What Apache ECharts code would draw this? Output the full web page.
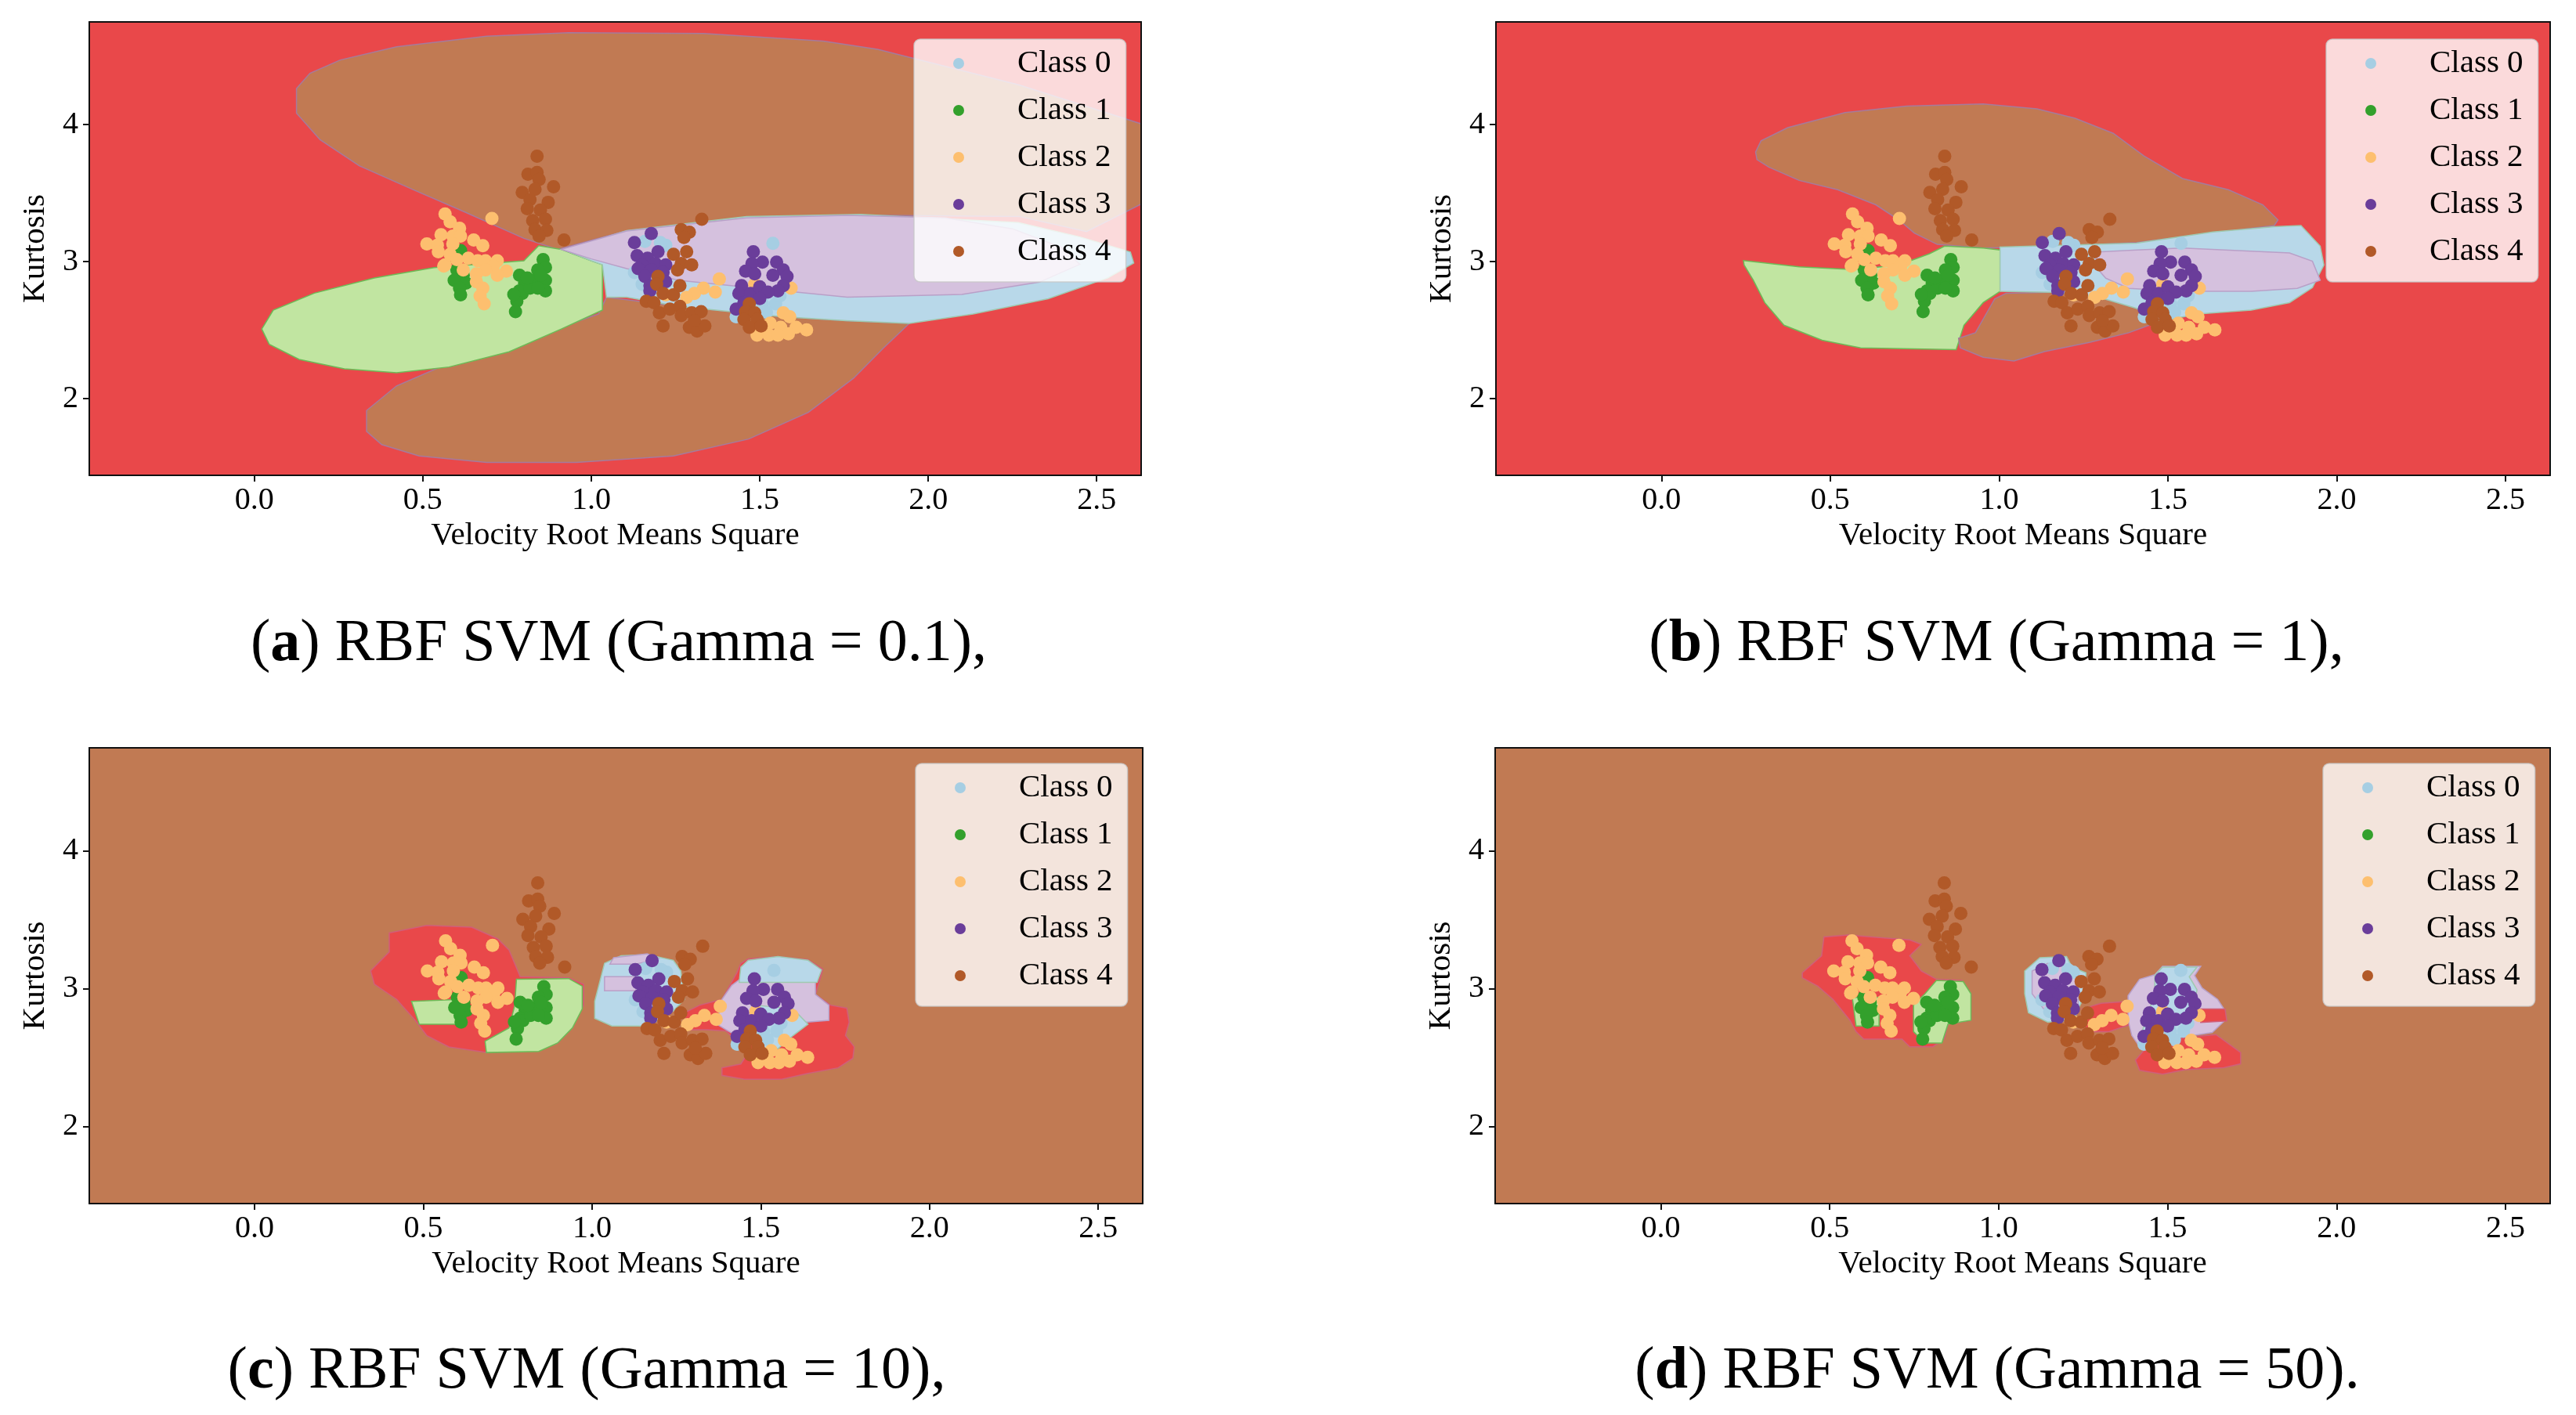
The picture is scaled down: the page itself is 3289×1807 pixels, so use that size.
<!DOCTYPE html>
<html><head><meta charset="utf-8">
<script src="https://cdn.jsdelivr.net/npm/echarts@6.0.0/dist/echarts.min.js"></script>
<style>html,body{margin:0;padding:0;background:#fff}#c{width:3289px;height:1807px}</style>
</head><body><div id="c"></div>
<script>
// ---------- data ----------
const classNames = ['Class 0', 'Class 1', 'Class 2', 'Class 3', 'Class 4'];
const xTicks = [0.0, 0.5, 1.0, 1.5, 2.0, 2.5];
const yTicks = [2, 3, 4];
const xRange = [-0.49, 2.632];
const yRange = [1.44, 4.75];
const captionLetters = ['a', 'b', 'c', 'd'];
const captionGammas = ['0.1', '1', '10', '50'];
const captionEnds = [',', ',', ',', '.'];
const backgroundClass = [2, 2, 4, 4];

const class0Pts = [[1.539,3.133],[1.159,3.148],[1.221,3.120],[1.128,2.92],[1.430,2.597],[1.547,2.692],[1.508,2.692],[1.205,3.139],[1.151,2.835],[1.52,2.63],[1.45,2.62],[1.56,2.75]];
const class1Pts = [[0.612,3.081],[0.601,2.939],[0.620,2.901],[0.593,2.863],[0.628,2.844],[0.609,2.806],[0.612,2.758],[0.857,3.015],[0.864,2.958],[0.841,2.939],[0.864,2.863],[0.833,2.863],[0.787,2.901],[0.802,2.844],[0.787,2.787],[0.795,2.768],[0.818,2.806],[0.864,2.787],[0.779,2.711],[0.775,2.635],[0.841,2.806],[0.85,2.9],[0.81,2.88],[0.77,2.76]];
const class2Pts = [[0.705,3.315],[0.566,3.348],[0.581,3.291],[0.609,3.243],[0.554,3.196],[0.589,3.187],[0.612,3.187],[0.512,3.129],[0.543,3.120],[0.589,3.129],[0.651,3.158],[0.678,3.116],[0.546,3.072],[0.581,3.053],[0.566,2.977],[0.601,3.015],[0.635,3.025],[0.663,3.006],[0.686,3.006],[0.721,3.006],[0.709,2.968],[0.748,2.930],[0.721,2.901],[0.686,2.939],[0.659,2.911],[0.659,2.854],[0.678,2.806],[0.670,2.749],[0.682,2.692],[0.562,2.968],[0.620,2.939],[1.380,2.873],[1.368,2.778],[1.333,2.806],[1.306,2.768],[1.283,2.739],[1.221,2.758],[1.593,2.806],[1.570,2.626],[1.589,2.597],[1.531,2.550],[1.562,2.521],[1.608,2.521],[1.639,2.502],[1.492,2.464],[1.527,2.464],[1.554,2.464],[1.585,2.474],[1.485,2.835]];
const class3Pts = [[1.178,3.205],[1.128,3.139],[1.136,3.044],[1.198,3.072],[1.167,3.025],[1.151,2.977],[1.190,2.986],[1.221,2.977],[1.139,2.949],[1.178,2.939],[1.159,2.892],[1.213,2.920],[1.221,2.854],[1.174,2.825],[1.174,2.787],[1.481,3.072],[1.508,2.996],[1.477,2.986],[1.458,2.930],[1.485,2.911],[1.550,2.996],[1.570,2.939],[1.539,2.901],[1.581,2.892],[1.570,2.825],[1.554,2.787],[1.446,2.825],[1.438,2.768],[1.473,2.768],[1.500,2.816],[1.524,2.778],[1.500,2.730],[1.430,2.654],[1.453,2.701]];
const class4Pts = [[0.839,3.769],[0.812,3.638],[0.839,3.651],[0.845,3.600],[0.888,3.547],[0.795,3.505],[0.833,3.528],[0.818,3.452],[0.872,3.433],[0.810,3.386],[0.849,3.376],[0.826,3.300],[0.864,3.309],[0.833,3.234],[0.868,3.228],[0.845,3.186],[0.919,3.158],[1.328,3.309],[1.267,3.234],[1.291,3.215],[1.275,3.177],[1.283,3.072],[1.244,3.053],[1.267,2.986],[1.298,2.977],[1.256,2.939],[1.198,2.892],[1.194,2.835],[1.213,2.768],[1.244,2.758],[1.263,2.825],[1.163,2.711],[1.186,2.701],[1.202,2.626],[1.233,2.654],[1.263,2.673],[1.267,2.606],[1.298,2.626],[1.326,2.635],[1.213,2.531],[1.291,2.521],[1.314,2.493],[1.337,2.531],[1.306,2.569],[1.469,2.692],[1.458,2.635],[1.485,2.626],[1.453,2.578],[1.492,2.578],[1.469,2.521],[1.504,2.531]];
const classPts = [class0Pts, class1Pts, class2Pts, class3Pts, class4Pts];

// decision-region outlines (data coordinates), panel (a) gamma = 0.1
const regA_brownUp = [[0.125,4.084],[0.125,4.264],[0.165,4.375],[0.255,4.472],[0.422,4.568],[0.689,4.646],[0.933,4.671],[1.333,4.665],[1.689,4.61],[1.85,4.55],[2.27,4.29],[2.64,4.0],[2.64,3.43],[2.47,3.22],[2.27,3.33],[1.8,3.34],[1.461,3.32],[1.105,3.225],[0.9,3.09],[0.8,3.17],[0.622,3.365],[0.467,3.53],[0.311,3.70],[0.195,3.89]];
const regA_brownLow = [[0.333,1.761],[0.333,1.913],[0.422,2.093],[0.578,2.259],[0.8,2.425],[1.022,2.618],[1.045,2.74],[1.26,2.673],[1.415,2.635],[1.57,2.597],[1.756,2.569],[1.944,2.549],[1.867,2.369],[1.778,2.148],[1.644,1.899],[1.467,1.705],[1.244,1.581],[0.956,1.534],[0.689,1.534],[0.489,1.581],[0.378,1.664]];
const regA_green = [[0.022,2.508],[0.056,2.646],[0.178,2.770],[0.356,2.881],[0.533,2.956],[0.8,3.006],[0.844,3.116],[0.911,3.089],[1.0,3.006],[1.033,2.978],[1.033,2.646],[0.911,2.508],[0.756,2.342],[0.578,2.231],[0.422,2.189],[0.267,2.217],[0.133,2.286],[0.044,2.397]];
const regA_blue = [[0.92,3.085],[1.105,3.226],[1.461,3.33],[1.8,3.345],[2.267,3.285],[2.45,3.18],[2.6,3.07],[2.61,2.99],[2.533,2.881],[2.356,2.729],[2.133,2.618],[1.944,2.549],[1.756,2.569],[1.57,2.597],[1.415,2.635],[1.26,2.673],[1.105,2.74],[1.045,2.74],[1.033,2.978],[1.0,3.006]];
const regA_purple = [[0.911,3.089],[1.105,3.224],[1.461,3.319],[1.76,3.338],[2.05,3.32],[2.25,3.24],[2.4,3.1],[2.45,2.98],[2.33,2.85],[2.1,2.76],[1.76,2.74],[1.415,2.825],[1.26,2.863],[1.105,2.949],[1.0,3.02]];

// panel (b) gamma = 1
const regB_brownUp = [[0.279,3.80],[0.295,3.882],[0.374,3.978],[0.544,4.088],[0.726,4.135],[0.953,4.151],[1.112,4.115],[1.225,4.047],[1.338,3.937],[1.429,3.772],[1.543,3.607],[1.679,3.525],[1.781,3.415],[1.826,3.305],[1.815,3.264],[1.633,3.209],[1.407,3.140],[1.180,3.113],[0.953,3.099],[0.817,3.126],[0.749,3.209],[0.703,3.305],[0.635,3.415],[0.522,3.525],[0.408,3.593],[0.318,3.690],[0.283,3.745]];
const regB_green = [[0.243,3.008],[0.408,2.962],[0.567,2.942],[0.703,2.975],[0.794,3.058],[0.839,3.113],[0.953,3.099],[1.003,3.085],[1.003,2.783],[0.953,2.701],[0.896,2.536],[0.873,2.357],[0.590,2.371],[0.476,2.426],[0.363,2.536],[0.306,2.701],[0.272,2.865],[0.245,2.975]];
const regB_brownLow = [[0.880,2.440],[0.930,2.481],[0.987,2.728],[1.021,2.769],[1.157,2.777],[1.293,2.742],[1.407,2.659],[1.475,2.563],[1.384,2.481],[1.270,2.412],[1.134,2.343],[1.044,2.275],[0.953,2.302],[0.885,2.371]];
const regB_blue = [[1.003,3.107],[1.407,3.135],[1.633,3.217],[1.815,3.255],[1.894,3.264],[1.951,3.113],[1.962,2.975],[1.928,2.810],[1.860,2.701],[1.747,2.646],[1.588,2.618],[1.475,2.563],[1.407,2.659],[1.293,2.742],[1.157,2.777],[1.003,2.783]];
const regB_purple = [[1.293,3.071],[1.407,3.085],[1.543,3.099],[1.860,3.063],[1.928,3.003],[1.951,2.865],[1.883,2.805],[1.747,2.783],[1.543,2.783],[1.384,2.805],[1.316,2.879],[1.282,2.975]];

// panel (c) gamma = 10
const regC_redLeft = [[0.344,3.130],[0.399,3.268],[0.399,3.406],[0.510,3.461],[0.643,3.447],[0.720,3.364],[0.754,3.281],[0.787,3.088],[0.931,3.080],[0.975,3.033],[0.975,2.881],[0.931,2.702],[0.898,2.606],[0.798,2.545],[0.687,2.537],[0.576,2.578],[0.510,2.661],[0.476,2.771],[0.421,2.923],[0.355,3.033]];
const regC_greenA = [[0.465,2.909],[0.609,2.923],[0.621,2.743],[0.488,2.743]];
const regC_greenB = [[0.776,3.069],[0.931,3.074],[0.971,3.019],[0.971,2.854],[0.942,2.716],[0.898,2.606],[0.842,2.545],[0.687,2.537],[0.683,2.619],[0.754,2.716],[0.771,2.881]];
const regC_blueMid = [[1.037,3.185],[1.086,3.240],[1.164,3.248],[1.241,3.207],[1.263,3.130],[1.274,2.923],[1.241,2.840],[1.186,2.757],[1.152,2.730],[1.059,2.730],[1.008,2.785],[1.008,2.909]];
const regC_purpleMidA = [[1.064,3.226],[1.164,3.254],[1.197,3.218],[1.130,3.179],[1.053,3.179]];
const regC_purpleMidB = [[1.037,3.088],[1.130,3.088],[1.130,2.986],[1.037,2.986]];
const regC_redRight = [[1.274,2.826],[1.319,2.881],[1.385,2.923],[1.407,3.019],[1.429,3.116],[1.441,3.185],[1.463,3.218],[1.551,3.234],[1.640,3.212],[1.684,3.143],[1.673,3.047],[1.662,2.959],[1.707,2.881],[1.755,2.859],[1.762,2.757],[1.751,2.661],[1.777,2.578],[1.773,2.495],[1.729,2.426],[1.640,2.385],[1.562,2.343],[1.452,2.343],[1.385,2.371],[1.385,2.426],[1.441,2.454],[1.463,2.537],[1.429,2.619],[1.396,2.694],[1.341,2.702],[1.281,2.702]];
const regC_purpleRight = [[1.385,2.923],[1.414,3.025],[1.441,3.074],[1.662,3.052],[1.662,2.959],[1.702,2.881],[1.702,2.771],[1.596,2.749],[1.551,2.674],[1.463,2.619],[1.407,2.688],[1.370,2.743]];
const regC_blueRightTop = [[1.441,3.157],[1.463,3.207],[1.551,3.234],[1.640,3.207],[1.680,3.138],[1.667,3.047],[1.436,3.047]];
const regC_blueRightLow = [[1.485,2.881],[1.596,2.854],[1.640,2.743],[1.596,2.661],[1.551,2.564],[1.485,2.564],[1.441,2.688]];

// panel (d) gamma = 50
const regD_redLeft = [[0.419,3.116],[0.476,3.240],[0.483,3.377],[0.555,3.391],[0.646,3.372],[0.737,3.355],[0.771,3.322],[0.737,3.240],[0.771,3.129],[0.816,3.069],[0.891,3.061],[0.918,2.964],[0.918,2.771],[0.850,2.744],[0.839,2.634],[0.805,2.579],[0.737,2.579],[0.714,2.634],[0.601,2.634],[0.578,2.689],[0.560,2.771],[0.510,2.923],[0.465,3.019],[0.419,3.080]];
const regD_greenA = [[0.567,2.937],[0.646,2.937],[0.646,2.730],[0.578,2.730]];
const regD_greenB = [[0.816,3.061],[0.895,3.052],[0.918,2.964],[0.918,2.771],[0.850,2.744],[0.832,2.606],[0.782,2.606],[0.748,2.689],[0.748,2.882],[0.782,2.964]];
const regD_blueMid = [[1.077,3.129],[1.122,3.226],[1.201,3.234],[1.217,3.157],[1.258,3.116],[1.258,2.964],[1.235,2.854],[1.224,2.771],[1.145,2.758],[1.088,2.826],[1.077,2.964]];
const regD_purpleMid = [[1.099,3.129],[1.145,3.185],[1.201,3.157],[1.235,3.074],[1.235,2.882],[1.190,2.826],[1.133,2.854],[1.099,2.964]];
const regD_redMid = [[1.247,2.854],[1.303,2.895],[1.383,2.909],[1.405,2.854],[1.394,2.744],[1.326,2.689],[1.258,2.689]];
const regD_purpleRight = [[1.383,2.950],[1.417,3.069],[1.462,3.102],[1.485,3.163],[1.598,3.163],[1.580,3.096],[1.602,3.006],[1.648,2.923],[1.670,2.840],[1.670,2.771],[1.632,2.683],[1.507,2.634],[1.417,2.579],[1.394,2.661],[1.383,2.771]];
const regD_blueRight = [[1.462,3.096],[1.485,3.157],[1.587,3.157],[1.564,3.088],[1.587,2.992],[1.575,2.854],[1.553,2.689],[1.530,2.606],[1.462,2.579],[1.417,2.634],[1.439,2.799],[1.462,2.964]];
const regD_redBottom = [[1.405,2.482],[1.439,2.579],[1.553,2.647],[1.643,2.667],[1.716,2.537],[1.716,2.455],[1.666,2.427],[1.553,2.413],[1.485,2.380],[1.417,2.408]];
const regD_redRight = [[1.598,2.854],[1.670,2.854],[1.675,2.766],[1.598,2.755]];

// region lists: [class, outline] in drawing order
const regionsA = [[4, regA_brownUp], [4, regA_brownLow], [1, regA_green], [0, regA_blue], [3, regA_purple]];
const regionsB = [[4, regB_brownUp], [1, regB_green], [4, regB_brownLow], [0, regB_blue], [3, regB_purple]];
const regionsC = [[2, regC_redLeft], [1, regC_greenA], [1, regC_greenB], [0, regC_blueMid], [3, regC_purpleMidA], [3, regC_purpleMidB], [2, regC_redRight], [3, regC_purpleRight], [0, regC_blueRightTop], [0, regC_blueRightLow]];
const regionsD = [[2, regD_redLeft], [1, regD_greenA], [1, regD_greenB], [0, regD_blueMid], [3, regD_purpleMid], [2, regD_redMid], [3, regD_purpleRight], [0, regD_blueRight], [2, regD_redBottom], [2, regD_redRight]];
const panelRegions = [regionsA, regionsB, regionsC, regionsD];

// ---------- styles / layout ----------
const pointColors = ['#a6cee3', '#33a02c', '#fdbf6f', '#6a3d9a', '#b15928'];
const regionColors = ['#B8D8E9', '#C1E5A1', '#E9484A', '#D5C1DE', '#C17A53'];
const regionStroke = ['#9fc9b0', '#6dbb57', '#cf5f7a', '#b9a0c8', '#a67a9c'];
const FONT = 'Liberation Serif';
const CAPTION_SIZE = 76;
const layouts = [
  {grid: {left: 114, top: 28, width: 1343, height: 579}, legend: {left: 1167, top: 50}, caption: {left: 785, top: 780}},
  {grid: {left: 1910, top: 28, width: 1346, height: 579}, legend: {left: 2970, top: 50}, caption: {left: 2544, top: 780}},
  {grid: {left: 114, top: 955, width: 1345, height: 582}, legend: {left: 1169, top: 975}, caption: {left: 744, top: 1709}},
  {grid: {left: 1909, top: 955, width: 1347, height: 582}, legend: {left: 2966, top: 975}, caption: {left: 2545, top: 1709}}
];

const grids = [], xAxes = [], yAxes = [], series = [], legends = [], titles = [];
const spine = {color: '#111', width: 2};

layouts.forEach((L, i) => {
  grids.push(Object.assign({show: true, backgroundColor: regionColors[backgroundClass[i]], borderWidth: 0}, L.grid));
  xAxes.push({
    gridIndex: i, type: 'value', min: xRange[0], max: xRange[1], position: 'bottom', z: 10,
    axisLine: {show: true, onZero: false, lineStyle: spine},
    axisTick: {show: true, inside: false, length: 8, lineStyle: spine, customValues: xTicks},
    axisLabel: {customValues: xTicks, formatter: v => v.toFixed(1), fontSize: 40, fontFamily: FONT, color: '#000', margin: 12},
    splitLine: {show: false},
    name: 'Velocity Root Means Square', nameLocation: 'middle', nameGap: 57,
    nameTextStyle: {fontSize: 41, fontFamily: FONT, color: '#000'}
  });
  xAxes.push({
    gridIndex: i, type: 'value', min: xRange[0], max: xRange[1], position: 'top', z: 10,
    axisLine: {show: true, onZero: false, lineStyle: spine},
    axisTick: {show: false}, axisLabel: {show: false}, splitLine: {show: false}
  });
  yAxes.push({
    gridIndex: i, type: 'value', min: yRange[0], max: yRange[1], position: 'left', z: 10,
    axisLine: {show: true, onZero: false, lineStyle: spine},
    axisTick: {show: true, inside: false, length: 8, lineStyle: spine, customValues: yTicks},
    axisLabel: {customValues: yTicks, formatter: v => String(v), fontSize: 40, fontFamily: FONT, color: '#000', margin: 14},
    splitLine: {show: false},
    name: 'Kurtosis', nameLocation: 'middle', nameGap: 48,
    nameTextStyle: {fontSize: 41, fontFamily: FONT, color: '#000'}
  });
  yAxes.push({
    gridIndex: i, type: 'value', min: yRange[0], max: yRange[1], position: 'right', z: 10,
    axisLine: {show: true, onZero: false, lineStyle: spine},
    axisTick: {show: false}, axisLabel: {show: false}, splitLine: {show: false}
  });

  const regs = panelRegions[i];
  series.push({
    type: 'custom', xAxisIndex: 2 * i, yAxisIndex: 2 * i, clip: true, silent: true, z: 1,
    data: regs.map(r => r[1][0]),
    renderItem: (params, api) => {
      const r = regs[params.dataIndex];
      return {
        type: 'polygon',
        shape: {points: r[1].map(p => api.coord(p))},
        style: {fill: regionColors[r[0]], stroke: regionStroke[r[0]], lineWidth: 1.5}
      };
    }
  });
  classPts.forEach((pts, c) => {
    series.push({
      type: 'scatter', name: classNames[c], xAxisIndex: 2 * i, yAxisIndex: 2 * i,
      data: pts, symbol: 'circle', symbolSize: 17, z: 3 + c,
      itemStyle: {color: pointColors[c], opacity: 1}
    });
  });

  legends.push({
    orient: 'vertical', left: L.legend.left, top: L.legend.top, data: classNames,
    icon: 'circle', itemWidth: 14, itemHeight: 14, itemGap: 14, selectedMode: false,
    padding: [8, 19, 16, 50],
    backgroundColor: 'rgba(255,255,255,0.8)', borderColor: 'rgba(200,200,200,0.8)', borderWidth: 1.5, borderRadius: 8,
    textStyle: {fontSize: 41, fontFamily: FONT, color: '#000', lineHeight: 46, padding: [0, 0, 0, 63]}
  });

  titles.push({
    left: L.caption.left, top: L.caption.top, textAlign: 'center',
    text: '({b|' + captionLetters[i] + '}) RBF SVM (Gamma = ' + captionGammas[i] + ')' + captionEnds[i],
    textStyle: {fontSize: CAPTION_SIZE, fontFamily: FONT, fontWeight: 'normal', color: '#000',
      rich: {b: {fontSize: CAPTION_SIZE, fontFamily: FONT, fontWeight: 'bold', color: '#000'}}}
  });
});

const chart = echarts.init(document.getElementById('c'), null, {renderer: 'canvas', width: 3289, height: 1807});
chart.setOption({
  animation: false,
  backgroundColor: '#ffffff',
  title: titles,
  legend: legends,
  grid: grids,
  xAxis: xAxes,
  yAxis: yAxes,
  series: series
});
</script>
</body></html>
